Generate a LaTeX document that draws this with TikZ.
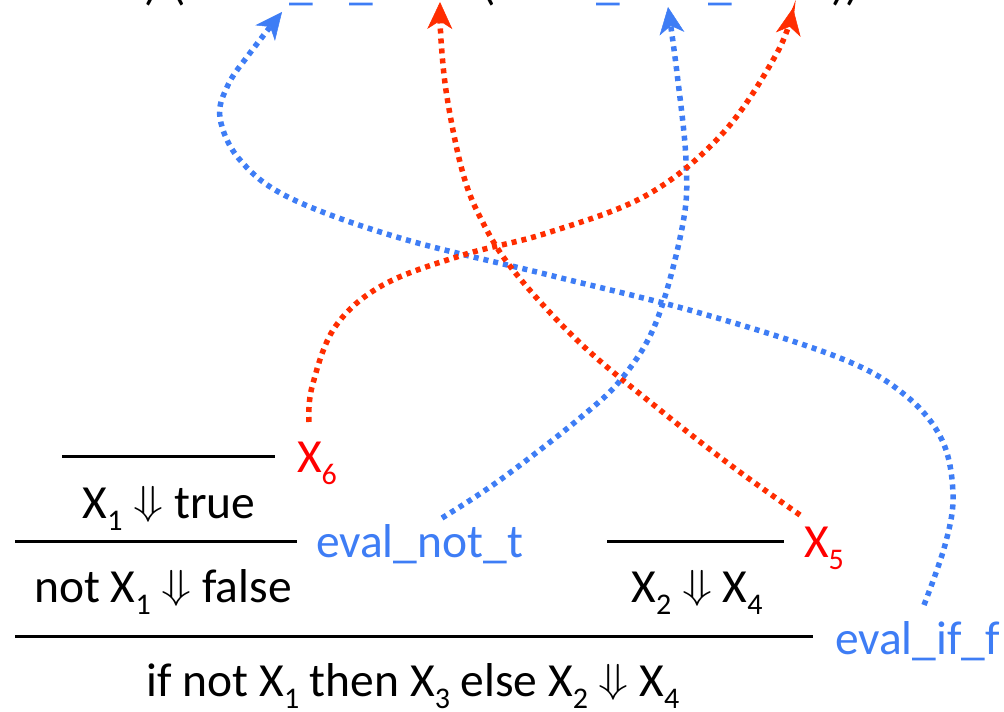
\documentclass[tikz,border=0pt]{standalone}
\usepackage{fontspec}
\setmainfont{Carlito}
\usepackage{graphicx}
\usetikzlibrary{arrows.meta}
\definecolor{myblue}{RGB}{62,125,245}
\definecolor{myred}{RGB}{255,0,0}
\definecolor{linered}{RGB}{255,45,0}
\newcommand\sbs[1]{\raisebox{-0.24em}{\fontsize{30}{30}\selectfont #1}}
\newcommand\dn{\raisebox{4pt}{\resizebox*{30pt}{36pt}{$\Downarrow$}}}
\tikzset{
  lbl/.style={font=\fontsize{47.5}{50}\selectfont, inner sep=0pt, outer sep=0pt},
  rulebar/.style={line width=3pt},
  conn/.style={line width=5.5pt, dash pattern=on 5pt off 5pt,
    -{Stealth[length=27pt,width=25pt,inset=8pt,line width=0.5pt]}},
}
\begin{document}
\begin{tikzpicture}[x=1pt,y=1pt]
\useasboundingbox (0,0) rectangle (1004,712);
\clip (0,0) rectangle (1004,712);
% top fragments of the cut-off line
\node[lbl, anchor=base] (tp1) at (152,712) {)};
\node[lbl, anchor=base] (tp2) at (179,712) {(};
\node[lbl, anchor=base, text=myblue] (tb1) at (301,712) {\_};
\node[lbl, anchor=base, text=myblue] (tb2) at (361,712) {\_};
\node[lbl, anchor=base] (tp3) at (489,712) {(};
\node[lbl, anchor=base, text=myblue] (tb3) at (608,712) {\_};
\node[lbl, anchor=base, text=myblue] (tb4) at (720,712) {\_};
\node[lbl, anchor=base] (tp4) at (846,712) {))};
% rules
\draw[rulebar] (62,255) coordinate (r1a) -- (275,255) coordinate (r1b);
\draw[rulebar] (15,170) coordinate (r2a) -- (297,170) coordinate (r2b);
\draw[rulebar] (607,170) coordinate (r3a) -- (784,170) coordinate (r3b);
\draw[rulebar] (15,75) coordinate (r4a) -- (813,75) coordinate (r4b);
% judgements
\node[lbl, anchor=base] (j1) at (169,193) {X\sbs{1} \dn{} true};
\node[lbl, anchor=base] (j2) at (163,109) {not X\sbs{1} \dn{} false};
\node[lbl, anchor=base] (j3) at (697,109) {X\sbs{2} \dn{} X\sbs{4}};
\node[lbl, anchor=base] (j4) at (413,15) {if not X\sbs{1} then X\sbs{3} else X\sbs{2} \dn{} X\sbs{4}};
% rule labels
\node[lbl, anchor=base west, text=myred] (x6) at (297,239) {X\sbs{6}};
\node[lbl, anchor=base west, text=myblue] (ent) at (316,154) {eval\_not\_t};
\node[lbl, anchor=base west, text=myred] (x5) at (804,154) {X\sbs{5}};
\node[lbl, anchor=base west, text=myblue] (eif) at (835,57) {eval\_if\_f};
% connector ends
\coordinate (s1) at (924,107);
\coordinate (t1) at (282,700);
\coordinate (s2) at (800,197);
\coordinate (t2) at (440,710);
\coordinate (s3) at (442,194);
\coordinate (t3) at (668,705);
\coordinate (s4) at (309,290);
\coordinate (t4) at (793,704);
% connectors
\draw[conn, myblue] plot[smooth, tension=0.6] coordinates {(s1) (945,167) (953,217) (942,272) (905,317) (840,354) (700,399) (553,436) (400,474) (290,514) (240,552) (220,594) (228,627) (250,659) (t1)};
\draw[conn, linered] plot[smooth, tension=0.6] coordinates {(s2) (733,245) (660,302) (580,369) (513,442) (480,495) (462,542) (447,615) (441,672) (t2)};
\draw[conn, myblue] plot[smooth, tension=0.6] coordinates {(s3) (500,232) (580,294) (623,335) (657,392) (683,489) (686,552) (677,639) (t3)};
\draw[conn, linered] plot[smooth, tension=0.6] coordinates {(s4) (312,325) (335,385) (383,427) (463,457) (547,479) (647,517) (723,579) (777,659) (t4)};
\end{tikzpicture}
\end{document}
